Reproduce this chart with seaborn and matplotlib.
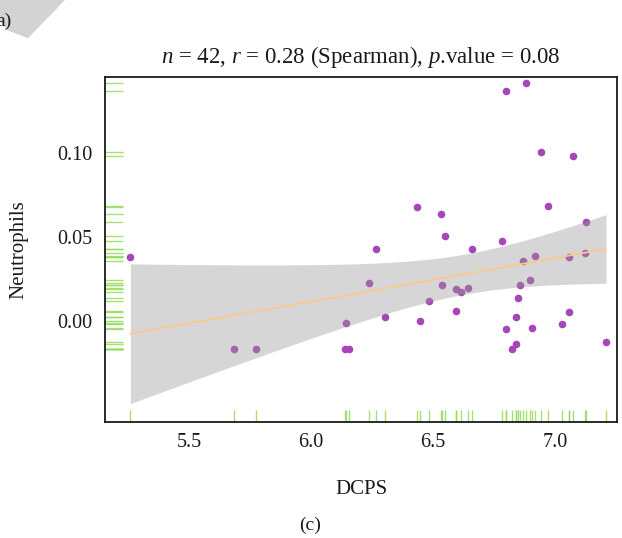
import matplotlib
matplotlib.use('Agg')
import matplotlib.pyplot as plt
from matplotlib.patches import Polygon
import seaborn as sns
import pandas as pd
import numpy as np

sns.set_theme(style='white')
plt.rcParams['font.family'] = ['Liberation Serif', 'DejaVu Serif']
plt.rcParams['mathtext.fontset'] = 'custom'
plt.rcParams['mathtext.rm'] = 'Liberation Serif'
plt.rcParams['mathtext.it'] = 'Liberation Serif:italic'

# values
dcps = [5.260, 5.685, 5.773, 6.139, 6.157, 6.143, 6.236, 6.266, 6.302, 6.433,
        6.448, 6.485, 6.534, 6.537, 6.549, 6.594, 6.596, 6.616, 6.643, 6.659,
        6.783, 6.799, 6.798, 6.824, 6.841, 6.842, 6.848, 6.857, 6.870, 6.881,
        6.898, 6.907, 6.919, 6.941, 6.973, 7.029, 7.057, 7.059, 7.075, 7.122,
        7.128, 7.209]
neutrophils = [0.0383, -0.0165, -0.0165, -0.0165, -0.0165, -0.0012, 0.0226, 0.0429, 0.0022, 0.0680,
               0.0002, 0.0119, 0.0637, 0.0212, 0.0508, 0.0190, 0.0058, 0.0175, 0.0196, 0.0429,
               0.0478, 0.1369, -0.0049, -0.0165, 0.0026, -0.0135, 0.0139, 0.0214, 0.0359, 0.1415,
               0.0242, -0.0042, 0.0387, 0.1004, 0.0685, -0.0018, 0.0379, 0.0052, 0.0980, 0.0407,
               0.0587, -0.0127]
df = pd.DataFrame({'DCPS': dcps, 'Neutrophils': neutrophils})

x_ticks = [5.5, 6.0, 6.5, 7.0]
y_ticks = [0.00, 0.05, 0.10]

fig = plt.figure(figsize=(6.22, 5.38), dpi=100)
ax = fig.add_axes([0.1688, 0.2156, 0.8232, 0.6413])

sns.scatterplot(data=df, x='DCPS', y='Neutrophils', ax=ax, color='#a845b8',
                s=30, linewidth=0, zorder=2)

# linear fit band, 95% confidence (t based, like lm)
x = np.asarray(dcps)
y = np.asarray(neutrophils)
n = len(x)
slope, icept = np.polyfit(x, y, 1)
resid = y - (icept + slope * x)
s_err = np.sqrt(np.sum(resid ** 2) / (n - 2))
grid = np.linspace(x.min(), x.max(), 100)
fit = icept + slope * grid
se = s_err * np.sqrt(1 / n + (grid - x.mean()) ** 2 / np.sum((x - x.mean()) ** 2))
t_crit = 2.021
ax.fill_between(grid, fit - t_crit * se, fit + t_crit * se, color='#999999',
                alpha=0.4, linewidth=0, zorder=3)
sns.regplot(data=df, x='DCPS', y='Neutrophils', ax=ax, scatter=False, ci=None,
            line_kws={'color': '#fdc98a', 'lw': 1.3, 'zorder': 4})
sns.rugplot(data=df, x='DCPS', y='Neutrophils', ax=ax, height=0.035,
            color='#94dc5c', lw=1.1, alpha=0.85)

ax.set_xlim(5.156, 7.254)
ax.set_ylim(-0.0601, 0.1452)
ax.set_xticks(x_ticks)
ax.set_xticklabels([f'{v:.1f}' for v in x_ticks])
ax.set_yticks(y_ticks)
ax.set_yticklabels([f'{v:.2f}' for v in y_ticks])
ax.tick_params(length=0, labelsize=14.5, colors='#1a1a1a')
ax.tick_params(axis='x', pad=8)
ax.tick_params(axis='y', pad=9)
for sp in ax.spines.values():
    sp.set_color('#1a1a1a')
    sp.set_linewidth(1.3)
ax.set_xlabel('DCPS', fontsize=15, labelpad=20, color='#1a1a1a')
ax.set_ylabel('Neutrophils', fontsize=15, labelpad=21, color='#1a1a1a')
ax.set_title('$n$ = 42, $r$ = 0.28 (Spearman), $p$.value = 0.08',
             fontsize=16.5, pad=10, color='#1a1a1a')

fig.text(0.498, 0.024, '(c)', fontsize=14, ha='center', va='center', color='#1a1a1a')

# fragment of the neighbouring panel label in the corner
fig.patches.append(Polygon([(0.0, 1.0), (0.1045, 1.0), (0.045, 0.929), (0.011, 0.944), (0.0, 0.96)],
                           closed=True, transform=fig.transFigure, facecolor='#d3d3d3',
                           edgecolor='none', zorder=0))
fig.text(-0.006, 0.961, 'a)', fontsize=14, ha='left', va='center', color='#1a1a1a')

fig.savefig('out.png', dpi=100, facecolor='white')
